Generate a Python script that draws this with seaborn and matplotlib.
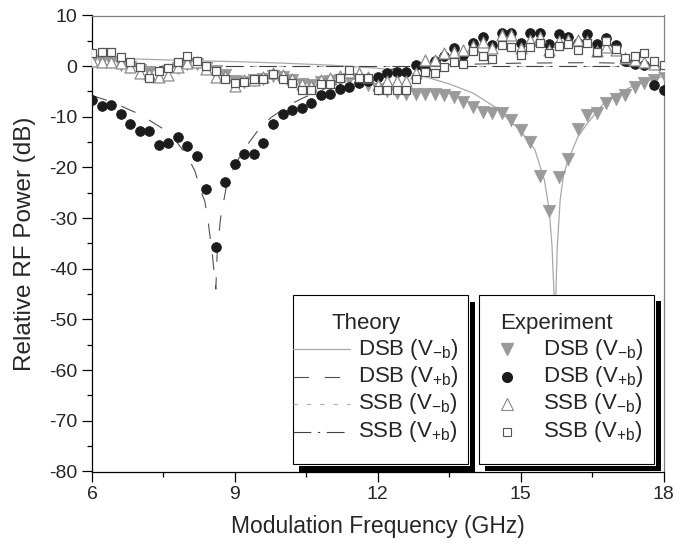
import pandas as pd
import seaborn as sns
import matplotlib.pyplot as plt
from matplotlib.lines import Line2D
from matplotlib.patches import Rectangle
from matplotlib.ticker import MultipleLocator

# --- measured points (0.2 GHz grid) ---
freq = [6.0, 6.2, 6.4, 6.6, 6.8, 7.0, 7.2, 7.4, 7.6, 7.8,
        8.0, 8.2, 8.4, 8.6, 8.8, 9.0, 9.2, 9.4, 9.6, 9.8,
        10.0, 10.2, 10.4, 10.6, 10.8, 11.0, 11.2, 11.4, 11.6, 11.8,
        12.0, 12.2, 12.4, 12.6, 12.8, 13.0, 13.2, 13.4, 13.6, 13.8,
        14.0, 14.2, 14.4, 14.6, 14.8, 15.0, 15.2, 15.4, 15.6, 15.8,
        16.0, 16.2, 16.4, 16.6, 16.8, 17.0, 17.2, 17.4, 17.6, 17.8, 18.0]

dsb_minus_exp = [1.0, 1.0, 0.8, 0.3, -0.2, -0.8, -1.2, -1.3, -1.0, -0.3,
                 0.5, 0.5, -0.3, -1.0, -1.8, -3.0, -3.2, -2.8, -2.5, -2.0,
                 -2.2, -2.8, -3.5, -3.8, -3.2, -3.0, -2.8, -2.6, -3.2, -3.8,
                 -4.5, -5.0, -5.2, -5.4, -5.4, -5.4, -5.4, -5.7, -6.1, -7.0,
                 -8.0, -9.0, -9.3, -9.3, -10.7, -12.6, -14.9, -21.7, -28.5, -21.9,
                 -18.4, -12.4, -9.6, -9.3, -7.3, -6.5, -5.7, -4.2, -3.4, -2.8, -1.8]

dsb_plus_exp = [-6.7, -7.8, -7.7, -9.4, -11.4, -12.7, -12.7, -15.6, -15.2, -14.0,
                -15.7, -17.7, -24.2, -35.6, -22.9, -19.4, -17.4, -17.3, -15.2, -11.4,
                -9.5, -8.6, -8.2, -7.3, -5.7, -5.5, -4.6, -4.2, -3.4, -2.9,
                -2.1, -1.4, -1.1, -1.2, 0.2, -0.6, 1.0, 2.0, 3.5, 2.2,
                4.6, 5.7, 4.2, 6.6, 6.6, 4.6, 6.6, 6.6, 4.4, 6.4,
                5.8, 4.5, 6.4, 4.4, 5.5, 4.2, 1.0, 0.5, 0.2, -3.7, -4.7]

ssb_minus_exp = [1.0, 0.9, 0.9, 0.6, -0.2, -1.4, -1.6, -2.2, -1.7, -0.1,
                 0.6, 0.9, -0.6, -2.1, -1.9, -4.0, -2.7, -2.7, -2.1, -1.4,
                 -1.7, -2.6, -3.5, -3.9, -2.7, -2.3, -1.9, -1.1, -1.4, -2.1,
                 -3.7, -3.0, -3.0, -3.0, -1.4, 1.2, 1.2, 2.5, 2.8, 3.2,
                 4.0, 4.8, 3.5, 6.2, 6.2, 3.5, 5.2, 5.8, 3.2, 5.0,
                 5.2, 5.2, 5.0, 2.9, 3.8, 3.2, 1.6, 1.2, 0.9, 0.5, -0.1]

ssb_plus_exp = [2.6, 2.7, 2.7, 1.9, 0.9, -0.2, -2.4, -0.9, -0.4, 0.8,
                2.0, 1.1, 0.0, -0.9, -2.6, -3.4, -3.1, -2.6, -2.6, -1.5,
                -2.6, -3.4, -4.8, -4.8, -3.5, -3.5, -2.4, -0.7, -2.4, -2.4,
                -4.7, -4.8, -4.8, -4.8, -2.6, -1.1, -1.3, -0.2, 0.9, 0.4,
                2.9, 2.0, 1.4, 4.2, 3.8, 2.3, 3.8, 4.6, 2.5, 4.0,
                4.4, 3.2, 4.6, 2.7, 5.0, 3.3, 1.6, 2.0, 2.5, 1.1, 0.2]

# --- theory curves ---
th_dsb_minus_f = [6.0, 7.0, 8.0, 9.0, 10.0, 11.0, 12.0, 12.5, 13.0, 13.5,
                  14.0, 14.5, 15.0, 15.3, 15.5, 15.6, 15.66, 15.7, 15.72, 15.74,
                  15.77, 15.83, 15.9, 16.0, 16.2, 16.4, 16.8, 17.4, 18.0]
th_dsb_minus_db = [1.5, 1.4, 1.1, 0.9, 0.6, 0.2, -0.4, -1.0, -2.1, -3.5,
                   -5.3, -8.3, -12.8, -16.5, -22.5, -28.4, -35.6, -44.7, -60.0, -45.0,
                   -35.6, -26.4, -21.5, -18.5, -14.0, -11.3, -6.7, -3.7, -2.0]

th_dsb_plus_f = [6.0, 6.4, 7.0, 7.5, 7.7, 8.0, 8.16, 8.3, 8.37, 8.45,
                 8.53, 8.6, 8.63, 8.7, 8.82, 9.0, 9.2, 9.5, 9.75, 10.15,
                 10.45, 11.0, 11.5, 12.0, 12.5, 13.5, 15.0, 16.5, 17.5, 18.0]
th_dsb_plus_db = [-5.8, -7.0, -9.5, -12.4, -14.0, -17.7, -20.7, -25.0, -26.7, -31.5,
                  -37.5, -44.0, -36.5, -30.0, -23.8, -19.5, -16.3, -12.5, -10.2, -7.6,
                  -6.2, -4.0, -2.5, -1.2, -0.2, 0.3, 0.6, 0.7, 0.5, 0.0]

th_ssb_f = [6.0, 18.0]
th_ssb_minus_db = [0.0, 0.0]
th_ssb_plus_db = [0.0, 0.0]

labels = [r'DSB (V$_{\mathregular{-b}}$)', r'DSB (V$_{\mathregular{+b}}$)',
          r'SSB (V$_{\mathregular{-b}}$)', r'SSB (V$_{\mathregular{+b}}$)']

sns.set_style("ticks")
plt.rcParams['font.family'] = ['Liberation Sans', 'DejaVu Sans']
plt.rcParams['mathtext.fontset'] = 'custom'
plt.rcParams['mathtext.rm'] = 'Liberation Sans'
plt.rcParams['axes.unicode_minus'] = False

W, H = 689, 545
fig = plt.figure(figsize=(W / 100, H / 100), dpi=100)
ax = fig.add_axes([92 / W, (H - 471.5) / H, (663.5 - 92) / W, (471.5 - 15.5) / H])

# theory styles
th_styles = [
    dict(color='#a8a8a8', linestyle='-', linewidth=0.9),
    dict(color='#505050', linestyle=(0, (14, 14)), linewidth=0.8),
    dict(color='#b0b0b0', linestyle=(0, (4, 8)), linewidth=0.8),
    dict(color='#404040', linestyle=(0, (16, 6, 2, 6)), linewidth=0.8),
]
th_data = [(th_dsb_minus_f, th_dsb_minus_db), (th_dsb_plus_f, th_dsb_plus_db),
           (th_ssb_f, th_ssb_minus_db), (th_ssb_f, th_ssb_plus_db)]
for (fx_, fy_), st in zip(th_data, th_styles):
    sns.lineplot(x=fx_, y=fy_, ax=ax, estimator=None, sort=False, zorder=1, **st)

# experiment styles
exp_styles = [
    dict(marker='v', s=80, color='#9a9a9a', edgecolor='#9a9a9a', linewidth=0.5),
    dict(marker='o', s=50, color='#1c1c1c', edgecolor='#1c1c1c', linewidth=0.5),
    dict(marker='^', s=62, color='white', edgecolor='#8a8a8a', linewidth=0.9),
    dict(marker='s', s=36, color='white', edgecolor='#555555', linewidth=0.9),
]
exp_df = pd.DataFrame({'freq': freq, 'DSB-': dsb_minus_exp, 'DSB+': dsb_plus_exp,
                       'SSB-': ssb_minus_exp, 'SSB+': ssb_plus_exp})
for i, (col, st) in enumerate(zip(['DSB-', 'DSB+', 'SSB-', 'SSB+'], exp_styles)):
    sns.scatterplot(data=exp_df, x='freq', y=col, ax=ax, zorder=3 + i, **st)

ax.set_xlim(6, 18)
ax.set_ylim(-80, 10)
ax.xaxis.set_major_locator(MultipleLocator(3))
ax.xaxis.set_minor_locator(MultipleLocator(1.5))
ax.yaxis.set_major_locator(MultipleLocator(10))
ax.yaxis.set_minor_locator(MultipleLocator(5))
ax.tick_params(which='major', direction='out', length=7.5, width=0.9, labelsize=14, pad=3, color='black')
ax.tick_params(which='minor', direction='out', length=3.5, width=0.9, color='black')
for side in ['left', 'bottom']:
    ax.spines[side].set_color('black')
    ax.spines[side].set_linewidth(0.9)
for side in ['top', 'right']:
    ax.spines[side].set_color('#808080')
    ax.spines[side].set_linewidth(0.9)

ax.set_xlabel('Modulation Frequency (GHz)', fontsize=16.5)
ax.set_ylabel('Relative RF Power (dB)', fontsize=17.5)
ax.xaxis.label.set_va('center')
ax.yaxis.label.set_va('center')
ax.yaxis.label.set_ha('center')
ax.xaxis.set_label_coords(0.5, (471.5 - 526) / 456)
ax.yaxis.set_label_coords((25 - 92) / 571.5, 0.5)


def fx(x):
    return x / W


def fy(y):
    return 1 - y / H


def box(x0, y0, x1, y1, sx0, sy0, sx1, sy1, gx, gy):
    # shadow bars, white gap, framed box
    fig.add_artist(Rectangle((fx(sx0), fy(sy1)), fx(sx1 - sx0), (sy1 - sy0) / H,
                             transform=fig.transFigure, facecolor='black', edgecolor='none', zorder=10))
    fig.add_artist(Rectangle((fx(x0), fy(gy)), fx(gx - x0), (gy - y0) / H,
                             transform=fig.transFigure, facecolor='white', edgecolor='none', zorder=11))
    fig.add_artist(Rectangle((fx(x0), fy(y1)), fx(x1 - x0), (y1 - y0) / H,
                             transform=fig.transFigure, facecolor='white', edgecolor='black',
                             linewidth=0.8, zorder=12))


box(292.5, 295, 467.5, 463.5, 299, 301.5, 474.5, 471.5, 470, 466)
box(479, 295, 653.5, 463.5, 485, 300.5, 661, 470.5, 655.5, 465.5)

rows = [349, 376.5, 404, 431.5]
fig.text(fx(366), fy(323), 'Theory', fontsize=16, ha='center', va='center', zorder=13)
fig.text(fx(556), fy(323), 'Experiment', fontsize=16, ha='center', va='center', zorder=13)

for r, lab, st in zip(rows, labels, th_styles):
    fig.add_artist(Line2D([fx(293), fx(350)], [fy(r), fy(r)], transform=fig.transFigure,
                          zorder=13, **st))
    fig.text(fx(358), fy(r), lab, fontsize=16, ha='left', va='center', zorder=13)

leg_markers = [
    dict(marker='v', markersize=9, color='#9a9a9a', markeredgecolor='#9a9a9a'),
    dict(marker='o', markersize=7, color='#1c1c1c', markeredgecolor='#1c1c1c'),
    dict(marker='^', markersize=8, color='white', markeredgecolor='#8a8a8a', markeredgewidth=0.8),
    dict(marker='s', markersize=5.5, color='white', markeredgecolor='#555555', markeredgewidth=0.8),
]
for r, lab, st in zip(rows, labels, leg_markers):
    fig.add_artist(Line2D([fx(506.5)], [fy(r)], transform=fig.transFigure, linestyle='none',
                          zorder=13, **st))
    fig.text(fx(543), fy(r), lab, fontsize=16, ha='left', va='center', zorder=13)

fig.savefig('out.png', dpi=100)
